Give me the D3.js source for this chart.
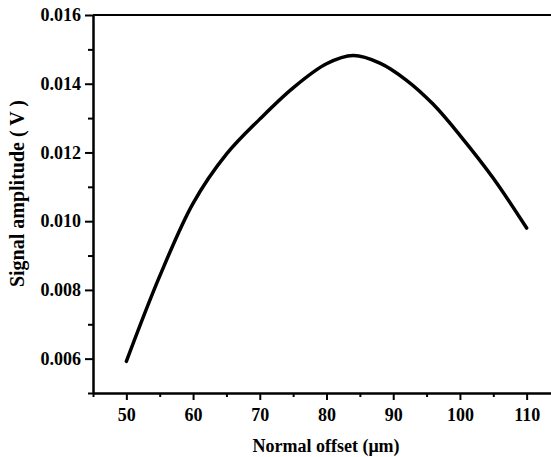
<!DOCTYPE html>
<html>
<head>
<meta charset="utf-8">
<script src="https://cdn.jsdelivr.net/npm/d3@7"></script>
<style>
  body { margin: 0; background: #fff; }
  svg { display: block; }
  .axis text { font-family: "Liberation Serif", "Times New Roman", serif; font-weight: bold; font-size: 18px; fill: #000; }
  .axis path, .axis line { stroke: #000; stroke-width: 2; }
  .title { font-family: "Liberation Serif", "Times New Roman", serif; font-weight: bold; font-size: 18px; fill: #000; }
</style>
</head>
<body>
<div id="vis"></div>
<script>
// Frame
const FRAME_WIDTH = 551;
const FRAME_HEIGHT = 457;
const MARGINS = { left: 93, right: -9, top: 15, bottom: 64 };

const VIS_WIDTH = FRAME_WIDTH - MARGINS.left - MARGINS.right;
const VIS_HEIGHT = FRAME_HEIGHT - MARGINS.top - MARGINS.bottom;

// Data
const OFFSET = [50, 55, 60, 65, 70, 75, 80, 84, 88, 92, 96, 100, 105, 110];
const AMPLITUDE = [0.00592, 0.00840, 0.01052, 0.01195, 0.01297, 0.01388, 0.01458,
                   0.01482, 0.01460, 0.01410, 0.01340, 0.01250, 0.01125, 0.00980];

// Ticks
const X_MAJOR = [50, 60, 70, 80, 90, 100, 110];
const X_MINOR = [45, 55, 65, 75, 85, 95, 105, 115];
const Y_MAJOR = [0.006, 0.008, 0.010, 0.012, 0.014, 0.016];
const Y_MINOR = [0.005, 0.007, 0.009, 0.011, 0.013, 0.015];

const FRAME = d3.select("#vis")
    .append("svg")
    .attr("width", FRAME_WIDTH)
    .attr("height", FRAME_HEIGHT);

const G = FRAME.append("g")
    .attr("transform", "translate(" + MARGINS.left + "," + MARGINS.top + ")");

const X_SCALE = d3.scaleLinear()
    .domain([45, 115])
    .range([0, VIS_WIDTH]);

const Y_SCALE = d3.scaleLinear()
    .domain([0.005, 0.016])
    .range([VIS_HEIGHT, 0]);

// Minor ticks first (no labels)
G.append("g")
    .attr("class", "axis")
    .attr("transform", "translate(0," + VIS_HEIGHT + ")")
    .call(d3.axisBottom(X_SCALE).tickValues(X_MINOR).tickSize(4).tickSizeOuter(0).tickFormat(""));

G.append("g")
    .attr("class", "axis")
    .call(d3.axisLeft(Y_SCALE).tickValues(Y_MINOR).tickSize(5).tickSizeOuter(0).tickFormat(""));

// Major ticks
G.append("g")
    .attr("class", "axis")
    .attr("transform", "translate(0," + VIS_HEIGHT + ")")
    .call(d3.axisBottom(X_SCALE).tickValues(X_MAJOR).tickSize(7).tickSizeOuter(0).tickPadding(8).tickFormat(d3.format("d")));

G.append("g")
    .attr("class", "axis")
    .call(d3.axisLeft(Y_SCALE).tickValues(Y_MAJOR).tickSize(8).tickSizeOuter(0).tickPadding(4).tickFormat(d3.format(".3f")));

// Top border
G.append("line")
    .attr("x1", 0)
    .attr("x2", VIS_WIDTH)
    .attr("y1", 0)
    .attr("y2", 0)
    .attr("stroke", "#000")
    .attr("stroke-width", 2);

// Right border (falls just off the frame)
G.append("line")
    .attr("x1", VIS_WIDTH)
    .attr("x2", VIS_WIDTH)
    .attr("y1", 0)
    .attr("y2", VIS_HEIGHT)
    .attr("stroke", "#000")
    .attr("stroke-width", 2);

// Curve
const LINE = d3.line()
    .x((d, i) => X_SCALE(OFFSET[i]))
    .y((d) => Y_SCALE(d))
    .curve(d3.curveCatmullRom.alpha(0.5));

G.append("path")
    .datum(AMPLITUDE)
    .attr("d", LINE)
    .attr("fill", "none")
    .attr("stroke", "#000")
    .attr("stroke-width", 3.5)
    .attr("stroke-linecap", "round");

// Axis titles
FRAME.append("text")
    .attr("class", "title")
    .attr("x", 326)
    .attr("y", 452)
    .attr("text-anchor", "middle")
    .text("Normal offset (\u03bcm)");

FRAME.append("text")
    .attr("class", "title")
    .attr("transform", "translate(24,100) rotate(-90)")
    .attr("text-anchor", "end")
    .style("font-size", "20px")
    .text("Signal amplitude ( V )");
</script>
</body>
</html>
